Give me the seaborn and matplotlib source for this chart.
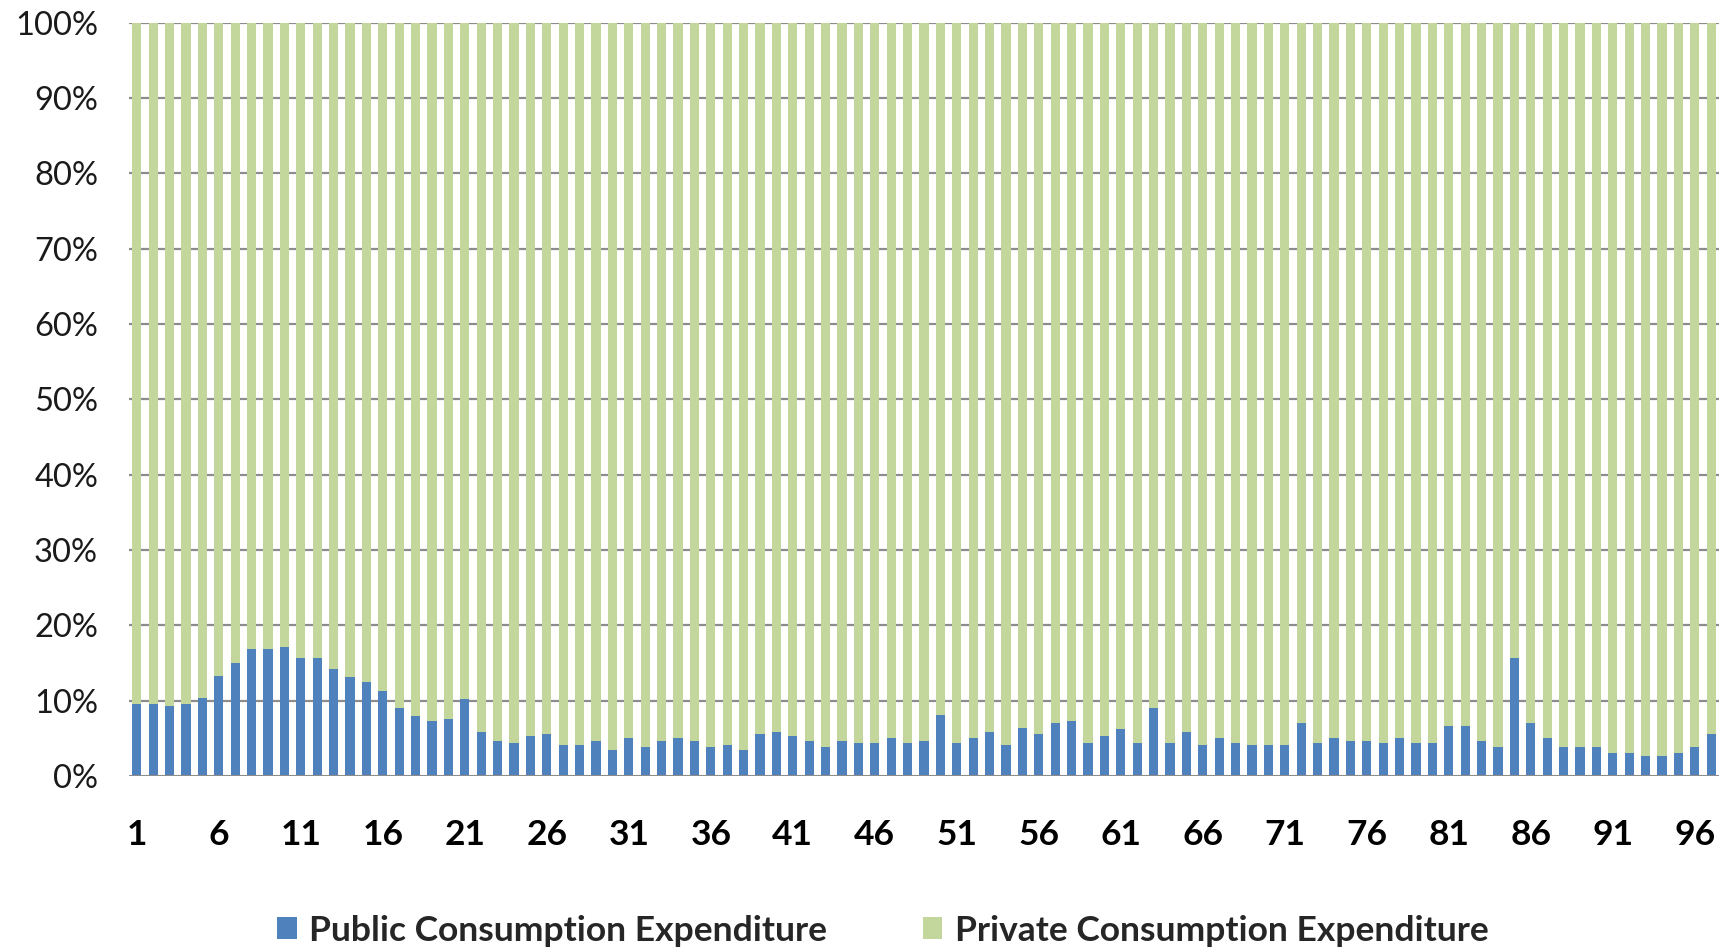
import numpy as np
import pandas as pd
import matplotlib
matplotlib.use("Agg")
import matplotlib.pyplot as plt
import seaborn as sns
from matplotlib.patches import Patch
from matplotlib.ticker import FuncFormatter

# Share of public consumption expenditure (%) for each of the 97 observations
units = list(range(1, 98))
public_share = [
    9.6, 9.6, 9.3, 9.6, 10.4, 13.3, 15.0, 16.8, 16.8, 17.1,
    15.6, 15.6, 14.2, 13.1, 12.5, 11.3, 9.0, 7.9, 7.3, 7.6,
    10.2, 5.8, 4.7, 4.4, 5.3, 5.6, 4.1, 4.1, 4.7, 3.5,
    5.0, 3.8, 4.7, 5.0, 4.7, 3.8, 4.1, 3.5, 5.6, 5.8,
    5.3, 4.7, 3.8, 4.7, 4.4, 4.4, 5.0, 4.4, 4.7, 8.1,
    4.4, 5.0, 5.8, 4.1, 6.4, 5.6, 7.0, 7.3, 4.4, 5.3,
    6.2, 4.4, 9.0, 4.4, 5.8, 4.1, 5.0, 4.4, 4.1, 4.1,
    4.1, 7.0, 4.4, 5.0, 4.7, 4.7, 4.4, 5.0, 4.4, 4.4,
    6.7, 6.7, 4.7, 3.8, 15.6, 7.0, 5.0, 3.8, 3.8, 3.8,
    3.0, 3.0, 2.7, 2.7, 3.0, 3.8, 5.6,
]
# Private share completes each bar to 100 %
private_share = [100 - p for p in public_share]
series_names = ["Public Consumption Expenditure", "Private Consumption Expenditure"]
tick_every = 5

BLUE = "#4F81BD"
GREEN = "#C3D69B"
GRID = "#8C8C8C"

df = pd.DataFrame({
    "unit": [str(u) for u in units],
    "public": public_share,
    "private": private_share,
})
df["total"] = df["public"] + df["private"]

sns.set_theme(style="white")
plt.rcParams["font.family"] = ["Lato", "DejaVu Sans"]

fig = plt.figure(figsize=(17.28, 9.50), dpi=100)
ax = fig.add_axes([128.6 / 1728, 1 - 776 / 950, (1719.4 - 128.6) / 1728, (776 - 22.5) / 950])

order = df["unit"].tolist()
# Stacked 100 % bars: full-height private layer, public layer drawn over it
sns.barplot(data=df, x="unit", y="total", order=order, color=GREEN,
            width=0.56, saturation=1, ax=ax, zorder=2, linewidth=0)
sns.barplot(data=df, x="unit", y="public", order=order, color=BLUE,
            width=0.56, saturation=1, ax=ax, zorder=3, linewidth=0)

ax.set_xlim(-0.5, len(units) - 0.5)
ax.set_ylim(0, 100)
ax.set_yticks(np.arange(0, 101, 10))
ax.yaxis.set_major_formatter(FuncFormatter(lambda v, _: f"{int(v)}%"))
for y in np.arange(10, 101, 10):
    ax.axhline(y, color=GRID, lw=1.6, zorder=1)
ax.axhline(0, color=GRID, lw=2.2, zorder=4)

tick_pos = list(range(0, len(units), tick_every))
ax.set_xticks(tick_pos)
ax.set_xticklabels([order[i] for i in tick_pos], fontsize=25.5, fontweight="bold", color="black")
ax.tick_params(axis="x", length=0, pad=31)
ax.tick_params(axis="y", length=0, pad=22, labelsize=23.5)
for lbl in ax.get_yticklabels():
    lbl.set_color("#1a1a1a")

ax.set_xlabel("")
ax.set_ylabel("")
for s in ax.spines.values():
    s.set_visible(False)

handles = [Patch(facecolor=BLUE, edgecolor="none"), Patch(facecolor=GREEN, edgecolor="none")]
fig.legend(handles, series_names, loc="lower center", bbox_to_anchor=(0.511, -0.03),
           ncol=2, frameon=False, handlelength=0.55, handleheight=0.55,
           handletextpad=0.35, columnspacing=2.7,
           prop={"family": ["Lato", "DejaVu Sans"], "weight": "bold", "size": 25.5})

fig.savefig("out.png", dpi=100)
